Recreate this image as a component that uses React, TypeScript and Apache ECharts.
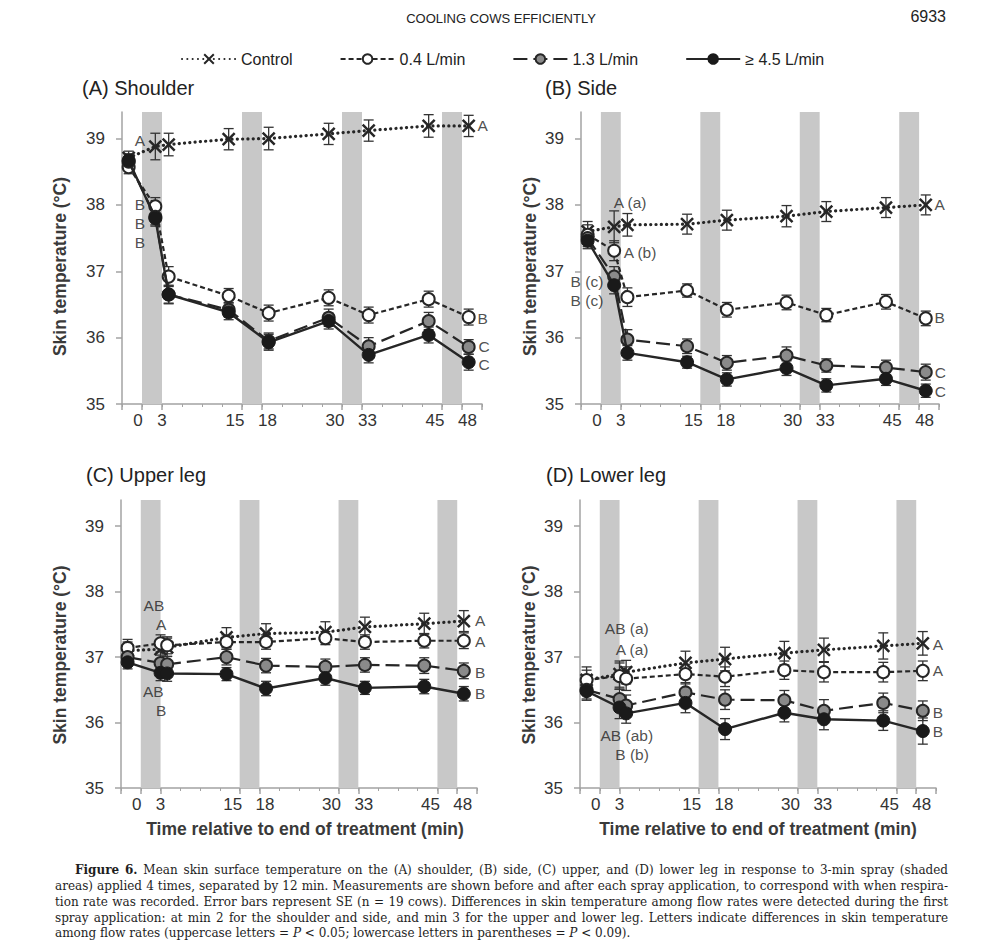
import React, { useEffect, useRef } from "react";
import * as echarts from "echarts";

// ---------- data ----------
const SERIES_NAMES = ["Control", "0.4 L/min", "1.3 L/min", "≥ 4.5 L/min"];
const TIMES_AB = [-2, 2, 4, 13, 19, 28, 34, 43, 49];
const TIMES_CD = [-2, 3, 4, 13, 19, 28, 34, 43, 49];
const Y_TICKS = [35, 36, 37, 38, 39];
const X_TICK_LABELS = [0, 3, 15, 18, 30, 33, 45, 48];
const X_MAJOR_TICKS = [-3, 0, 3, 15, 18, 30, 33, 45, 48, 51];
const SPRAY_PERIODS = [[0, 3], [15, 18], [30, 33], [45, 48]];
const PANEL_TITLES = ["(A) Shoulder", "(B) Side", "(C) Upper leg", "(D) Lower leg"];

// (A) Shoulder
const A_CONTROL = [38.71, 38.88, 38.91, 38.99, 39.0, 39.07, 39.12, 39.19, 39.19];
const A_L04 = [38.57, 37.98, 36.92, 36.63, 36.37, 36.6, 36.34, 36.58, 36.31];
const A_L13 = [38.65, 37.82, 36.65, 36.42, 35.95, 36.3, 35.87, 36.25, 35.86];
const A_L45 = [38.67, 37.8, 36.65, 36.38, 35.93, 36.25, 35.74, 36.04, 35.63];
const A_CONTROL_SE = [0.1, 0.2, 0.17, 0.16, 0.17, 0.16, 0.16, 0.17, 0.16];
const A_L04_SE = [0.1, 0.13, 0.15, 0.11, 0.12, 0.12, 0.12, 0.12, 0.12];
const A_L13_SE = [0.1, 0.12, 0.13, 0.11, 0.12, 0.13, 0.13, 0.13, 0.11];
const A_L45_SE = [0.1, 0.12, 0.14, 0.11, 0.12, 0.12, 0.12, 0.12, 0.12];

// (B) Side
const B_CONTROL = [37.6, 37.67, 37.7, 37.71, 37.77, 37.83, 37.9, 37.96, 38.0];
const B_L04 = [37.55, 37.31, 36.61, 36.71, 36.42, 36.53, 36.34, 36.54, 36.29];
const B_L13 = [37.5, 36.92, 35.97, 35.87, 35.62, 35.73, 35.58, 35.55, 35.48];
const B_L45 = [37.46, 36.79, 35.77, 35.63, 35.37, 35.54, 35.28, 35.38, 35.2];
const B_CONTROL_SE = [0.15, 0.24, 0.17, 0.15, 0.15, 0.16, 0.15, 0.15, 0.15];
const B_L04_SE = [0.15, 0.15, 0.14, 0.1, 0.11, 0.11, 0.1, 0.11, 0.11];
const B_L13_SE = [0.13, 0.15, 0.15, 0.11, 0.11, 0.13, 0.1, 0.11, 0.12];
const B_L45_SE = [0.12, 0.13, 0.11, 0.09, 0.1, 0.11, 0.1, 0.1, 0.1];

// (C) Upper leg
const C_CONTROL = [37.1, 37.12, 37.15, 37.3, 37.36, 37.38, 37.46, 37.51, 37.55];
const C_L04 = [37.14, 37.21, 37.18, 37.23, 37.23, 37.29, 37.23, 37.25, 37.25];
const C_L13 = [37.0, 36.91, 36.89, 37.0, 36.87, 36.85, 36.88, 36.87, 36.79];
const C_L45 = [36.92, 36.76, 36.75, 36.74, 36.52, 36.68, 36.53, 36.55, 36.44];
const C_CONTROL_SE = [0.13, 0.15, 0.14, 0.15, 0.15, 0.16, 0.15, 0.16, 0.16];
const C_L04_SE = [0.13, 0.13, 0.13, 0.11, 0.11, 0.1, 0.11, 0.11, 0.12];
const C_L13_SE = [0.12, 0.12, 0.12, 0.12, 0.11, 0.12, 0.11, 0.12, 0.12];
const C_L45_SE = [0.1, 0.12, 0.12, 0.1, 0.11, 0.11, 0.1, 0.11, 0.11];

// (D) Lower leg
const D_CONTROL = [36.65, 36.74, 36.77, 36.91, 36.97, 37.06, 37.11, 37.17, 37.21];
const D_L04 = [36.65, 36.71, 36.67, 36.74, 36.7, 36.8, 36.77, 36.77, 36.79];
const D_L13 = [36.5, 36.36, 36.26, 36.46, 36.35, 36.34, 36.18, 36.3, 36.18];
const D_L45 = [36.48, 36.23, 36.14, 36.3, 35.9, 36.15, 36.05, 36.03, 35.87];
const D_CONTROL_SE = [0.2, 0.2, 0.18, 0.18, 0.18, 0.18, 0.18, 0.2, 0.18];
const D_L04_SE = [0.15, 0.2, 0.18, 0.15, 0.15, 0.14, 0.15, 0.15, 0.15];
const D_L13_SE = [0.14, 0.15, 0.16, 0.15, 0.15, 0.15, 0.17, 0.15, 0.15];
const D_L45_SE = [0.14, 0.17, 0.15, 0.15, 0.16, 0.14, 0.16, 0.15, 0.2];

// significance letters: [time, temperature, text]
const A_LETTERS = [[-0.3, 38.97, "A"], [-0.3, 38.0, "B"], [-0.3, 37.72, "B"], [-0.3, 37.44, "B"],
  [51.1, 39.2, "A"], [51.1, 36.29, "B"], [51.3, 35.86, "C"], [51.3, 35.6, "C"]];
const B_LETTERS = [[4.4, 38.03, "A (a)"], [5.9, 37.28, "A (b)"], [-2.1, 36.84, "B (c)"], [-2.1, 36.56, "B (c)"],
  [51.1, 38.0, "A"], [51.1, 36.3, "B"], [51.2, 35.47, "C"], [51.2, 35.19, "C"]];
const C_LETTERS = [[2.0, 37.79, "AB"], [3.1, 37.5, "A"], [1.9, 36.48, "AB"], [3.1, 36.19, "B"],
  [51.5, 37.56, "A"], [51.5, 37.24, "A"], [51.5, 36.77, "B"], [51.5, 36.45, "B"]];
const D_LETTERS = [[4.1, 37.43, "AB (a)"], [4.9, 37.12, "A (a)"], [4.1, 35.8, "AB (ab)"], [4.9, 35.51, "B (b)"],
  [51.3, 37.2, "A"], [51.3, 36.79, "A"], [51.3, 36.16, "B"], [51.3, 35.86, "B"]];

const CAPTION_LINES = [
  "Figure 6. Mean skin surface temperature on the (A) shoulder, (B) side, (C) upper, and (D) lower leg in response to 3-min spray (shaded",
  "areas) applied 4 times, separated by 12 min. Measurements are shown before and after each spray application, to correspond with when respira-",
  "tion rate was recorded. Error bars represent SE (n = 19 cows). Differences in skin temperature among flow rates were detected during the first",
  "spray application: at min 2 for the shoulder and side, and min 3 for the upper and lower leg. Letters indicate differences in skin temperature",
  "among flow rates (uppercase letters = P < 0.05; lowercase letters in parentheses = P < 0.09).",
];

const PANELS = [
  { times: TIMES_AB, values: [A_CONTROL, A_L04, A_L13, A_L45], se: [A_CONTROL_SE, A_L04_SE, A_L13_SE, A_L45_SE], letters: A_LETTERS },
  { times: TIMES_AB, values: [B_CONTROL, B_L04, B_L13, B_L45], se: [B_CONTROL_SE, B_L04_SE, B_L13_SE, B_L45_SE], letters: B_LETTERS },
  { times: TIMES_CD, values: [C_CONTROL, C_L04, C_L13, C_L45], se: [C_CONTROL_SE, C_L04_SE, C_L13_SE, C_L45_SE], letters: C_LETTERS },
  { times: TIMES_CD, values: [D_CONTROL, D_L04, D_L13, D_L45], se: [D_CONTROL_SE, D_L04_SE, D_L13_SE, D_L45_SE], letters: D_LETTERS },
];

// ---------- layout / style ----------
const GRIDS = [
  { left: 122, top: 112, width: 360, height: 292 },
  { left: 581, top: 112, width: 358, height: 292 },
  { left: 121, top: 500, width: 356, height: 288 },
  { left: 580, top: 500, width: 356, height: 288 },
];
const Y_NAME_GAP = [53, 42, 52, 42];
const Y_NAME_PAD = [[0, 17, 0, 0], [0, 17, 0, 0], [0, 22, 0, 0], [0, 22, 0, 0]];
const X_NAME_PAD = [[0, 0, 0, 0], [0, 0, 0, 0], [0, 0, 0, 12], [0, 0, 0, 0]];
const TITLE_POS = [[82, 90], [545, 90], [86, 477], [546, 477]];
const SANS = "Liberation Sans, Arial, sans-serif";
const AXIS_GRAY = "#a3a3a3";
const INK = "#262626";
const X_SYMBOL = "path://M0,0L10,10M10,0L0,10";
const CAP_FAMILY = "DejaVu Serif";
const CAP_SIZE = 12;

const SERIES_STYLES = [
  { symbol: X_SYMBOL, symbolSize: 12, lineStyle: { color: INK, width: 3.2, type: [0.1, 5.2], cap: "round" },
    itemStyle: { color: INK, borderColor: INK, borderWidth: 2.5 } },
  { symbol: "circle", symbolSize: 12, lineStyle: { color: INK, width: 2.2, type: [5, 3] },
    itemStyle: { color: "#ffffff", borderColor: INK, borderWidth: 2 } },
  { symbol: "circle", symbolSize: 12, lineStyle: { color: INK, width: 2.2, type: [14, 6] },
    itemStyle: { color: "#8a8a8a", borderColor: INK, borderWidth: 2 } },
  { symbol: "circle", symbolSize: 13, lineStyle: { color: INK, width: 2.4, type: "solid" },
    itemStyle: { color: "#1a1a1a", borderColor: "#1a1a1a", borderWidth: 1 } },
];

const X_LABEL_SIZE = 17;
function xLabelFormatter(v: number) {
  if (v === 0) return `{z|${v}}`;
  if (v === 15 || v === 30 || v === 45) return `{l|${v}}`;
  if (v === 18 || v === 33 || v === 48) return `{r|${v}}`;
  return `{c|${v}}`;
}
const X_LABEL_RICH = {
  z: { fontFamily: SANS, fontSize: X_LABEL_SIZE, color: "#333", padding: [0, 8, 0, 0] },
  l: { fontFamily: SANS, fontSize: X_LABEL_SIZE, color: "#333", padding: [0, 14, 0, 0] },
  r: { fontFamily: SANS, fontSize: X_LABEL_SIZE, color: "#333", padding: [0, 0, 0, 11] },
  c: { fontFamily: SANS, fontSize: X_LABEL_SIZE, color: "#333" },
};

function captionGraphics() {
  const out: any[] = [];
  const canvas = document.createElement("canvas");
  const ctx = canvas.getContext("2d") as CanvasRenderingContext2D;
  const fontFor = (w: string, li: number, wi: number) => {
    const bold = li === 0 && wi < 2;
    const italic = w === "P";
    return `${italic ? "italic " : ""}${bold ? "bold " : ""}${CAP_SIZE}px "${CAP_FAMILY}"`;
  };
  const capY = [870, 886, 902, 918, 933];
  const rightEdge = 948;
  CAPTION_LINES.forEach((line, li) => {
    const words = line.split(" ");
    const fonts = words.map((w, wi) => fontFor(w, li, wi));
    const widths = words.map((w, wi) => { ctx.font = fonts[wi]; return ctx.measureText(w).width; });
    ctx.font = `${CAP_SIZE}px "${CAP_FAMILY}"`;
    const spaceW = ctx.measureText(" ").width;
    const startX = li === 0 ? 75 : 55;
    const total = widths.reduce((a, b) => a + b, 0);
    const last = li === CAPTION_LINES.length - 1;
    const gap = last ? spaceW : (rightEdge - startX - total) / (words.length - 1);
    let x = startX;
    words.forEach((w, wi) => {
      out.push({
        type: "text", x, y: capY[li], silent: true,
        style: { text: w, font: fonts[wi], fill: "#1e1e1e", textVerticalAlign: "middle" },
      });
      x += widths[wi] + gap;
    });
  });
  return out;
}

function buildOption() {
  const grid: any[] = [];
  const xAxis: any[] = [];
  const yAxis: any[] = [];
  const series: any[] = [];
  const graphic: any[] = [];

  PANELS.forEach((panel, p) => {
    grid.push({ ...GRIDS[p], containLabel: false });
    const bottomRow = p >= 2;
    xAxis.push({
      gridIndex: p, type: "value", min: -3, max: 51, interval: 3,
      name: bottomRow ? "Time relative to end of treatment (min)" : "",
      nameLocation: "middle", nameGap: 32,
      nameTextStyle: { fontFamily: SANS, fontSize: 17.5, fontWeight: "bold", color: "#3a3a3a", padding: X_NAME_PAD[p] },
      axisLine: { onZero: false, lineStyle: { color: AXIS_GRAY, width: 1.5 } },
      axisTick: { show: true, customValues: X_MAJOR_TICKS, length: 6, lineStyle: { color: AXIS_GRAY, width: 1.5 } },
      axisLabel: { customValues: X_TICK_LABELS, formatter: xLabelFormatter, rich: X_LABEL_RICH, margin: 8 },
      splitLine: { show: false },
    });
    // minor ticks every 3 min
    xAxis.push({
      gridIndex: p, type: "value", min: -3, max: 51, interval: 3, position: "bottom",
      axisLine: { show: false }, axisLabel: { show: false }, splitLine: { show: false },
      axisTick: { show: true, length: 3, lineStyle: { color: AXIS_GRAY, width: 1 } },
    });
    yAxis.push({
      gridIndex: p, type: "value", min: 35, max: 39.4, interval: 1,
      name: "Skin temperature (°C)", nameLocation: "middle", nameGap: Y_NAME_GAP[p],
      nameTextStyle: { fontFamily: SANS, fontSize: 17.5, fontWeight: "bold", color: "#3a3a3a", padding: Y_NAME_PAD[p] },
      axisLine: { show: true, onZero: false, lineStyle: { color: AXIS_GRAY, width: 1.5 } },
      axisTick: { show: true, customValues: Y_TICKS, length: 6, lineStyle: { color: AXIS_GRAY, width: 1.5 } },
      axisLabel: { customValues: Y_TICKS, fontFamily: SANS, fontSize: 17, color: "#333", margin: 17 },
      splitLine: { show: false },
    });
    const xi = p * 2;

    panel.values.forEach((vals, s) => {
      const st = SERIES_STYLES[s];
      series.push({
        type: "custom", name: `se-${p}-${s}`, xAxisIndex: xi, yAxisIndex: p, z: 3, silent: true,
        data: vals.map((v, i) => [panel.times[i], v, panel.se[s][i]]),
        encode: { x: 0, y: 1 },
        renderItem: (params: any, api: any) => {
          const x = api.value(0), y = api.value(1), e = api.value(2);
          const t = api.coord([x, y + e]);
          const b = api.coord([x, y - e]);
          const w = 5;
          const style = { stroke: "#333", lineWidth: 1.3 };
          return {
            type: "group",
            children: [
              { type: "line", shape: { x1: t[0], y1: t[1], x2: b[0], y2: b[1] }, style },
              { type: "line", shape: { x1: t[0] - w, y1: t[1], x2: t[0] + w, y2: t[1] }, style },
              { type: "line", shape: { x1: b[0] - w, y1: b[1], x2: b[0] + w, y2: b[1] }, style },
            ],
          };
        },
      });
      const lineSeries: any = {
        type: "line", name: SERIES_NAMES[s], xAxisIndex: xi, yAxisIndex: p, z: 4 + s,
        data: vals.map((v, i) => [panel.times[i], v]),
        symbol: st.symbol, symbolSize: st.symbolSize, showAllSymbol: true,
        lineStyle: st.lineStyle, itemStyle: st.itemStyle,
        emphasis: { disabled: true }, silent: true,
      };
      if (s === 0) {
        lineSeries.markArea = {
          silent: true,
          itemStyle: { color: "#c8c8c8" },
          data: SPRAY_PERIODS.map(([a, b]) => [{ xAxis: a }, { xAxis: b }]),
        };
      }
      series.push(lineSeries);
    });

    series.push({
      type: "scatter", name: `letters-${p}`, xAxisIndex: xi, yAxisIndex: p, z: 10, clip: false,
      symbolSize: 0, itemStyle: { color: "transparent" }, silent: true,
      data: panel.letters,
      label: {
        show: true, position: "inside", formatter: (d: any) => d.value[2],
        fontFamily: SANS, fontSize: 15.5, color: "#222",
      },
    });

    graphic.push({
      type: "text", left: TITLE_POS[p][0], top: TITLE_POS[p][1] - 12,
      style: { text: PANEL_TITLES[p], font: `20px ${SANS}`, fill: "#222" },
    });
  });

  graphic.push({
    type: "text", x: 501, y: 18,
    style: { text: "COOLING COWS EFFICIENTLY", font: `13px ${SANS}`, fill: "#222", textAlign: "center", textVerticalAlign: "middle" },
  });
  graphic.push({
    type: "text", x: 946, y: 16,
    style: { text: "6933", font: `16px ${SANS}`, fill: "#222", textAlign: "right", textVerticalAlign: "middle" },
  });
  graphic.push(...captionGraphics());

  return {
    animation: false,
    backgroundColor: "#ffffff",
    legend: {
      data: SERIES_NAMES, left: 176, top: 46, itemWidth: 54, itemHeight: 12, itemGap: 47,
      selectedMode: false,
      textStyle: { fontFamily: SANS, fontSize: 16, color: "#222" },
    },
    grid, xAxis, yAxis, series, graphic,
  };
}

export default function App() {
  const ref = useRef<HTMLDivElement>(null);
  useEffect(() => {
    document.body.style.margin = "0";
    if (!ref.current) return;
    const chart = echarts.init(ref.current, null, { renderer: "svg" });
    chart.setOption(buildOption() as any);
    return () => chart.dispose();
  }, []);
  return <div ref={ref} style={{ width: 1004, height: 941 }} />;
}
